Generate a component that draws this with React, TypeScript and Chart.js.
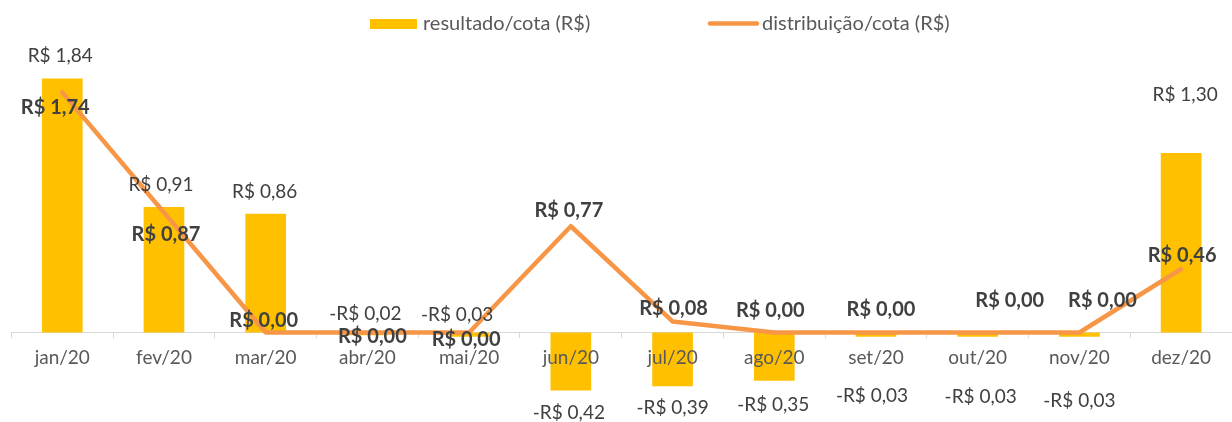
import React, { useEffect, useRef } from "react";
import { Chart, registerables } from "chart.js";

Chart.register(...registerables);

const categories = ["jan/20", "fev/20", "mar/20", "abr/20", "mai/20", "jun/20", "jul/20", "ago/20", "set/20", "out/20", "nov/20", "dez/20"];
const resultadoCota = [1.84, 0.91, 0.86, -0.02, -0.03, -0.42, -0.39, -0.35, -0.03, -0.03, -0.03, 1.3];
const distribuicaoCota = [1.74, 0.87, 0.0, 0.0, 0.0, 0.77, 0.08, 0.0, 0.0, 0.0, 0.0, 0.46];
const seriesNames = ["resultado/cota (R$)", "distribuição/cota (R$)"];

// label nudges (pixels) – layout only
const barLabelNudge = [
  [-2, -1], [-3, 0], [-1, 0], [-2, -43], [-12, -44], [-2, 0],
  [0, 0], [-1, 2], [-4, 37], [3, 38], [0, 42], [4, -36],
];
const lineLabelNudge = [
  [-7, 15], [2, 22], [-2, -12], [5, 4], [-3, 7], [-2, -16],
  [1, -13], [-4, -22], [5, -23], [32, -32], [23, -32], [1, -13],
];

const BAR_COLOR = "#FFC000";
const LINE_COLOR = "#F79646";
const FONT = "Lato";

const fmt = (v: number) => {
  const s = Math.abs(v).toFixed(2).replace(".", ",");
  return (v < 0 ? "-" : "") + "R$ " + s;
};

const labelPlugin = {
  id: "customLabels",
  afterDatasetDraw(chart: any, args: any) {
    if (args.index !== 0) return;
    // category labels drawn above the bars, below the line
    const ctx = chart.ctx;
    const xs = chart.scales.x;
    const y0 = chart.scales.y.getPixelForValue(0);
    ctx.save();
    ctx.font = `19px ${FONT}`;
    ctx.fillStyle = "#595959";
    ctx.textAlign = "center";
    ctx.textBaseline = "middle";
    categories.forEach((c, i) => {
      ctx.fillText(c, xs.getPixelForTick(i), y0 + 25.5);
    });
    ctx.restore();
  },
  afterDatasetsDraw(chart: any) {
    const ctx = chart.ctx;
    ctx.save();
    ctx.textAlign = "center";
    ctx.textBaseline = "middle";
    const barMeta = chart.getDatasetMeta(0);
    ctx.font = `19px ${FONT}`;
    ctx.fillStyle = "#404040";
    barMeta.data.forEach((el: any, i: number) => {
      const v = resultadoCota[i];
      const base = v >= 0 ? el.y - 22 : el.y + 22;
      const [dx, dy] = barLabelNudge[i];
      ctx.fillText(fmt(v), el.x + dx, base + dy);
    });
    const lineMeta = chart.getDatasetMeta(1);
    ctx.font = `bold 20px ${FONT}`;
    ctx.fillStyle = "#404040";
    lineMeta.data.forEach((el: any, i: number) => {
      const v = distribuicaoCota[i];
      const [dx, dy] = lineLabelNudge[i];
      ctx.fillText(fmt(v), el.x + dx, el.y + dy);
    });
    ctx.restore();
  },
  afterDraw(chart: any) {
    const ctx = chart.ctx;
    ctx.save();
    ctx.fillStyle = BAR_COLOR;
    ctx.fillRect(370, 19, 47, 10);
    ctx.strokeStyle = LINE_COLOR;
    ctx.lineWidth = 4.5;
    ctx.lineCap = "round";
    ctx.beginPath();
    ctx.moveTo(710, 23.5);
    ctx.lineTo(757, 23.5);
    ctx.stroke();
    ctx.font = `20px ${FONT}`;
    ctx.fillStyle = "#595959";
    ctx.textAlign = "left";
    ctx.textBaseline = "middle";
    ctx.fillText(seriesNames[0], 423, 24);
    ctx.fillText(seriesNames[1], 762, 24);
    ctx.restore();
  },
};

export default function App() {
  const ref = useRef<HTMLCanvasElement | null>(null);
  useEffect(() => {
    document.body.style.margin = "0";
    const canvas = ref.current;
    if (!canvas) return;
    const chart = new Chart(canvas, {
      type: "bar",
      data: {
        labels: categories,
        datasets: [
          {
            type: "bar",
            label: seriesNames[0],
            data: resultadoCota,
            backgroundColor: BAR_COLOR,
            barPercentage: 0.4,
            categoryPercentage: 1,
            order: 2,
          },
          {
            type: "line",
            label: seriesNames[1],
            data: distribuicaoCota,
            borderColor: LINE_COLOR,
            backgroundColor: LINE_COLOR,
            borderWidth: 4.5,
            pointRadius: 0,
            tension: 0,
            borderJoinStyle: "round",
            borderCapStyle: "round",
            order: 1,
          } as any,
        ],
      },
      options: {
        animation: false,
        responsive: false,
        devicePixelRatio: 1,
        layout: { padding: { top: 56.5, bottom: 6.7, left: 11.4, right: -7 } },
        plugins: { legend: { display: false }, tooltip: { enabled: false } },
        scales: {
          y: { display: false, min: -0.6, max: 2.0 },
          x: {
            position: { y: 0 } as any,
            grid: { display: true, drawOnChartArea: false, drawTicks: true, tickLength: 5, color: "#D9D9D9", offset: true },
            border: { display: true, color: "#D9D9D9", width: 1 },
            ticks: { display: false, autoSkip: false },
          },
        },
      },
      plugins: [labelPlugin],
    });
    return () => chart.destroy();
  }, []);
  return (
    <div style={{ width: 1232, height: 422 }}>
      <canvas ref={ref} width={1232} height={422} style={{ display: "block" }} />
    </div>
  );
}
